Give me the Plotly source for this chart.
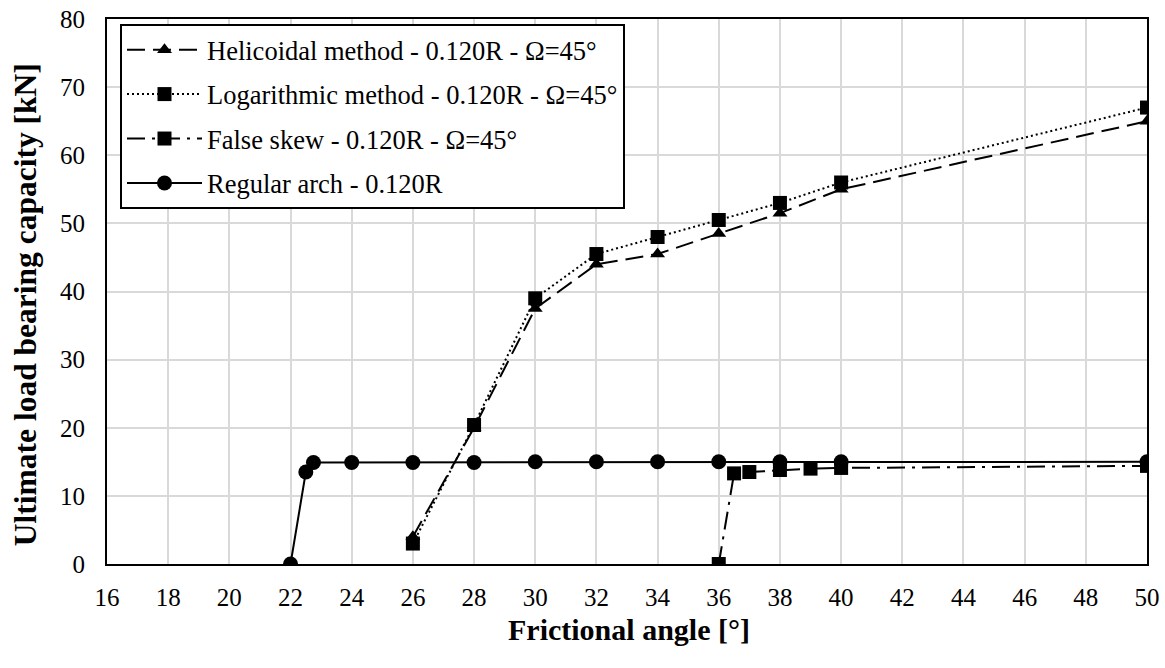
import plotly.graph_objects as go

# Data
heli_x = [26, 28, 30, 32, 34, 36, 38, 40, 50]
heli_y = [4.0, 20.0, 37.5, 44.0, 45.5, 48.5, 51.5, 55.0, 65.0]

log_x = [26, 28, 30, 32, 34, 36, 38, 40, 50]
log_y = [3.0, 20.4, 39.0, 45.5, 48.0, 50.5, 53.0, 56.0, 67.0]

fs_x = [36, 36.5, 37, 38, 39, 40, 50]
fs_y = [0.0, 13.3, 13.5, 13.8, 14.0, 14.1, 14.4]

reg_x = [22, 22.5, 22.75, 24, 26, 28, 30, 32, 34, 36, 38, 40, 50]
reg_y = [0.0, 13.5, 14.9, 14.9, 14.9, 14.9, 15.0, 15.0, 15.0, 15.0, 15.0, 15.0, 15.0]

names = [
    "Helicoidal method - 0.120R - Ω=45°",
    "Logarithmic method - 0.120R - Ω=45°",
    "False skew - 0.120R - Ω=45°",
    "Regular arch - 0.120R",
]
x_title = "Frictional angle [°]"
y_title = "Ultimate load bearing capacity [kN]"

FONT = "Liberation Serif"

fig = go.Figure()
fig.add_trace(go.Scatter(x=heli_x, y=heli_y, name=names[0], mode="lines+markers",
                         line=dict(color="black", width=2, dash="18px,8px"),
                         marker=dict(symbol="triangle-up", size=13, color="black"),
                         legendgroup="a"))
fig.add_trace(go.Scatter(x=log_x, y=log_y, name=names[1], mode="lines+markers",
                         line=dict(color="black", width=2, dash="2px,3px"),
                         marker=dict(symbol="square", size=14, color="black"),
                         legendgroup="b"))
fig.add_trace(go.Scatter(x=fs_x, y=fs_y, name=names[2], mode="lines+markers",
                         line=dict(color="black", width=2, dash="18px,7px,3px,7px"),
                         marker=dict(symbol="square", size=14, color="black"),
                         legendgroup="c"))
fig.add_trace(go.Scatter(x=reg_x, y=reg_y, name=names[3], mode="lines+markers",
                         line=dict(color="black", width=2),
                         marker=dict(symbol="circle", size=15, color="black"),
                         legendgroup="d"))

fig.update_layout(
    width=1165, height=668,
    margin=dict(l=107, r=18, t=19, b=104, autoexpand=False),
    paper_bgcolor="white", plot_bgcolor="white",
    font=dict(family=FONT, size=25, color="black"),
    showlegend=True,
    legend=dict(x=0.0125, y=0.991, xanchor="left", yanchor="top",
                bgcolor="white", bordercolor="black", borderwidth=2,
                font=dict(family=FONT, size=26.5, color="black"),
                itemwidth=75, tracegroupgap=7, traceorder="grouped"),
    xaxis=dict(range=[16, 50], tickmode="linear", tick0=16, dtick=2,
               showgrid=True, gridcolor="#d9d9d9", gridwidth=2,
               showline=True, linecolor="black", linewidth=2, mirror=True,
               zeroline=False, ticks="", ticklabelstandoff=10, automargin=False,
               ticklabeloverflow="allow",
               tickfont=dict(family=FONT, size=25)),
    yaxis=dict(range=[0, 80], tickmode="linear", tick0=0, dtick=10,
               showgrid=True, gridcolor="#d9d9d9", gridwidth=2,
               showline=True, linecolor="black", linewidth=2, mirror=True,
               zeroline=False, ticks="", ticklabelstandoff=15, automargin=False,
               ticklabeloverflow="allow",
               tickfont=dict(family=FONT, size=25)),
    annotations=[
        dict(text="<b>" + x_title + "</b>", xref="paper", yref="paper",
             x=0.502, y=-0.12, xanchor="center", yanchor="middle",
             showarrow=False, font=dict(family=FONT, size=30, color="black")),
        dict(text="<b>" + y_title + "</b>", xref="paper", yref="paper",
             x=-0.0788, y=0.475, xanchor="center", yanchor="middle", textangle=-90,
             showarrow=False, font=dict(family=FONT, size=31.5, color="black")),
    ],
)

fig.write_html("out.html", config={"displayModeBar": False},
               post_script="document.body.style.margin='0px';")
